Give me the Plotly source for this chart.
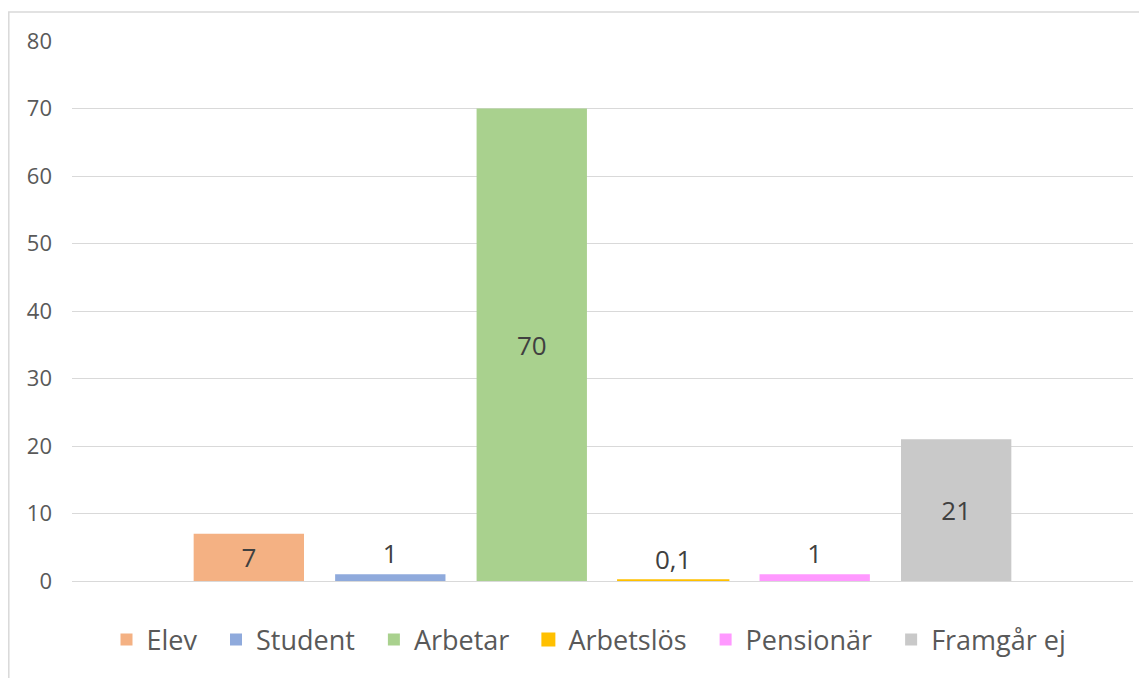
import plotly.graph_objects as go

series = ["Elev", "Student", "Arbetar", "Arbetslös", "Pensionär", "Framgår ej"]
values = [7, 1, 70, 0.1, 1, 21]
colors = ["#F4B183", "#8FAADC", "#A9D18E", "#FFC000", "#FF99FF", "#C9C9C9"]
label_pos = ["inside", "outside", "inside", "outside", "outside", "inside"]
y_ticks = [0, 10, 20, 30, 40, 50, 60, 70, 80]

FONT = "Open Sans"
# page has an 8px offset around the figure
OFF = 8
W, H = 1147 - OFF, 678 - OFF
PL, PR, PT, PB = 72 - OFF, 1133 - OFF, 41 - OFF, 581 - OFF  # plot area in figure px
PW, PH = PR - PL, PB - PT

fig = go.Figure()
for name, v, c, pos in zip(series, values, colors, label_pos):
    fig.add_trace(go.Bar(
        x=[""], y=[v], name=name + "\u00a0\u00a0",
        marker=dict(color=c, line=dict(color=c, width=2 if v < 0.5 else 0)),
        text=[f"{v:g}".replace(".", ",")], textposition=pos,
        insidetextanchor="middle", constraintext="none",
        textfont=dict(family=FONT, size=26, color="#404040"),
        cliponaxis=False,
    ))

fig.update_layout(
    width=W, height=H,
    margin=dict(l=PL, r=W - PR, t=PT, b=H - PB),
    paper_bgcolor="white", plot_bgcolor="white",
    barmode="group", bargap=0.2, bargroupgap=0.22,
    separators=", ",
    font=dict(family=FONT, color="#595959"),
    showlegend=True,
    legend=dict(orientation="h", x=(596 - OFF - PL) / PW, xanchor="center",
                y=-(640 - 581) / PH, yanchor="middle",
                font=dict(family=FONT, size=27, color="#595959"), traceorder="normal",
                itemwidth=30),
    xaxis=dict(showticklabels=False, showgrid=False, zeroline=False, showline=False),
    yaxis=dict(range=[0, 80], tickvals=y_ticks, showgrid=True, gridcolor="#D9D9D9", gridwidth=1,
               zeroline=True, zerolinecolor="#D9D9D9", zerolinewidth=1, showline=False,
               ticklabelstandoff=19, tickfont=dict(family=FONT, size=22, color="#595959")),
    shapes=[dict(type="rect", xref="paper", yref="paper",
                 x0=(0.8 - PL) / PW, x1=(1170 - OFF - PL) / PW,
                 y0=-(700 - 581) / PH, y1=(581 - 12) / PH,
                 line=dict(color="#D9D9D9", width=1.5), fillcolor="rgba(0,0,0,0)", layer="below")],
)

fig.write_html("out.html")
